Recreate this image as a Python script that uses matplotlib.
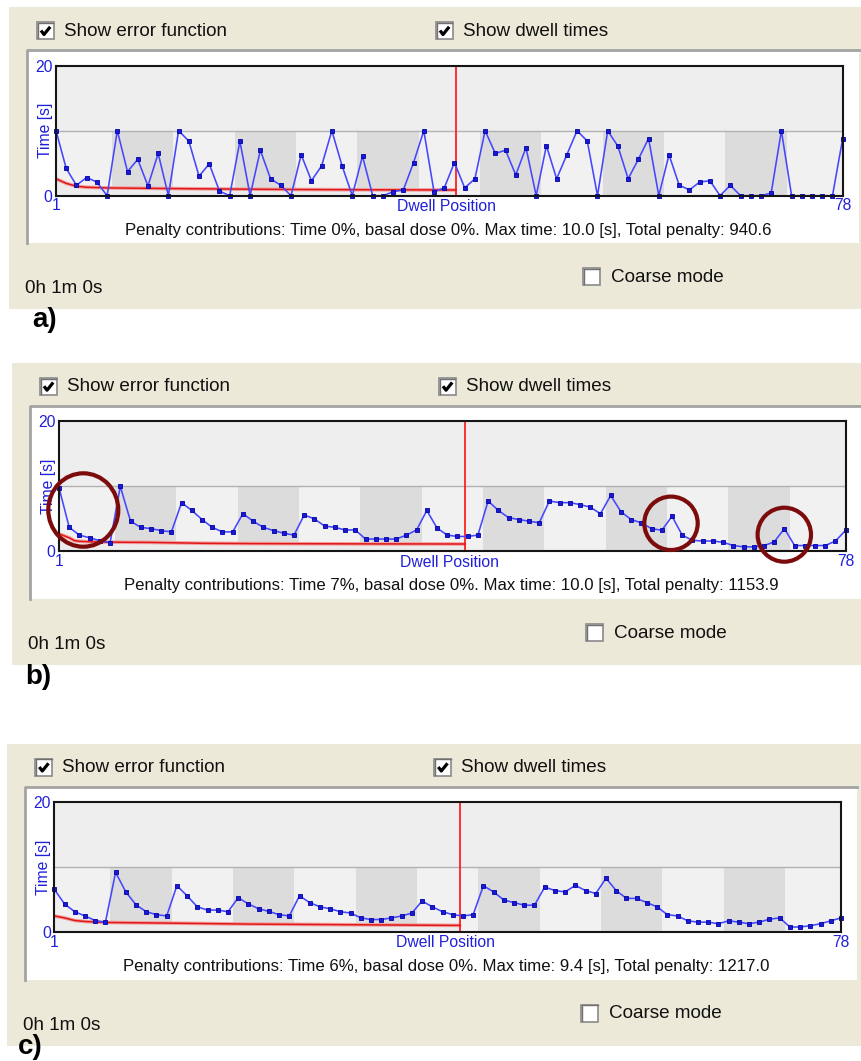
import numpy as np
import matplotlib
matplotlib.use("Agg")
import matplotlib.pyplot as plt
from matplotlib.patches import Rectangle, Ellipse

plt.rcParams['font.family'] = ['Liberation Sans', 'DejaVu Sans']

W, H = 861, 1061

# ---------------- data ----------------
positions = np.arange(1, 79)

dwell_a = [10, 4.2, 1.6, 2.8, 2.1, 0, 10, 3.7, 5.6, 1.5,
           6.5, 0, 10, 8.4, 3.0, 4.9, 0.7, 0, 8.4, 0,
           7.0, 2.6, 1.6, 0, 6.3, 2.3, 4.6, 10, 4.6, 0,
           6.1, 0, 0, 0.6, 0.9, 5.1, 10, 0.6, 1.2, 5.1,
           1.2, 2.6, 10, 6.5, 7.0, 3.2, 7.4, 0, 7.7, 2.6,
           6.3, 10, 8.4, 0, 10, 7.6, 2.6, 5.6, 8.8, 0,
           6.3, 1.6, 0.9, 2.1, 2.3, 0, 1.6, 0, 0, 0,
           0.4, 10, 0, 0, 0, 0, 0, 8.8]

dwell_b = [9.8, 3.7, 2.5, 2.1, 1.65, 1.35, 10.0, 4.65, 3.7, 3.5,
           3.2, 3.0, 7.5, 6.3, 4.9, 3.7, 3.0, 3.0, 5.8, 4.65,
           3.7, 3.2, 2.8, 2.5, 5.6, 5.0, 3.9, 3.7, 3.3, 3.3,
           1.9, 1.9, 1.9, 1.9, 2.5, 3.3, 6.3, 3.6, 2.5, 2.3,
           2.3, 2.5, 7.75, 6.3, 5.2, 4.9, 4.65, 4.4, 7.75, 7.5,
           7.5, 7.2, 6.8, 5.8, 8.6, 6.1, 4.9, 4.4, 3.5, 3.25,
           5.4, 2.5, 1.7, 1.6, 1.6, 1.4, 0.9, 0.7, 0.7, 0.9,
           1.45, 3.5, 0.9, 0.9, 0.9, 0.9, 1.6, 3.25]

dwell_c = [6.6, 4.35, 3.15, 2.5, 1.8, 1.5, 9.2, 6.2, 4.2, 3.15,
           2.7, 2.5, 7.15, 5.6, 3.9, 3.4, 3.4, 3.15, 5.3, 4.35,
           3.6, 3.2, 2.7, 2.5, 5.6, 4.55, 3.9, 3.6, 3.15, 2.95,
           2.2, 1.95, 1.95, 2.2, 2.5, 2.95, 4.8, 3.9, 3.15, 2.7,
           2.5, 2.7, 7.15, 6.2, 4.95, 4.55, 4.15, 4.15, 6.95, 6.4,
           6.2, 7.2, 6.4, 5.95, 8.3, 6.4, 5.2, 5.2, 4.55, 3.9,
           2.7, 2.5, 1.75, 1.55, 1.55, 1.3, 1.75, 1.55, 1.3, 1.55,
           2.0, 2.2, 0.8, 0.8, 1.0, 1.3, 1.75, 2.2]

# error function (red curve), read at selected positions
err_pos_a = [1, 2, 3, 4, 6, 9, 12, 16, 20, 25, 30, 35, 40, 40.15]
err_a = [2.6, 1.9, 1.45, 1.3, 1.2, 1.15, 1.1, 1.05, 1.0, 0.95, 0.92, 0.9, 0.88, 0.88]
err_pos_b = [1, 2, 2.5, 3, 4, 6, 10, 15, 20, 30, 40, 40.77]
err_b = [2.7, 2.1, 1.66, 1.55, 1.48, 1.42, 1.38, 1.25, 1.2, 1.16, 1.14, 1.14]
err_pos_c = [1, 2, 3, 4, 6, 12, 20, 30, 40, 40.75]
err_c = [2.5, 2.2, 1.8, 1.65, 1.5, 1.4, 1.25, 1.15, 1.05, 1.05]

marker_pos = [40.15, 40.77, 40.75]      # red vertical line (dwell position)
max_time_line = 10.0

penalty_texts = [
    "Penalty contributions: Time 0%, basal dose 0%. Max time: 10.0 [s], Total penalty: 940.6",
    "Penalty contributions: Time 7%, basal dose 0%. Max time: 10.0 [s], Total penalty: 1153.9",
    "Penalty contributions: Time 6%, basal dose 0%. Max time: 9.4 [s], Total penalty: 1217.0",
]
panel_labels = ["a)", "b)", "c)"]
x_ticks = [1, 78]
y_ticks = [0, 20]
elapsed = "0h 1m 0s"

# ---------------- styles ----------------
BEIGE = '#ece9d8'
BLUE_TXT = '#2020dc'
UI = 13.6
AX_FS = 11.3

fig = plt.figure(figsize=(W / 100, H / 100), dpi=100)
fig.patch.set_facecolor('white')

bg = fig.add_axes([0, 0, 1, 1])
bg.set_xlim(0, W)
bg.set_ylim(H, 0)
bg.axis('off')


def checkbox(ax, x, y, checked):
    ax.add_patch(Rectangle((x, y), 17, 17, facecolor='white',
                           edgecolor='#8a8a8a', lw=1.2, zorder=3))
    ax.plot([x + 0.8, x + 0.8, x + 16.2], [y + 16.2, y + 0.8, y + 0.8],
            color='#707070', lw=1.0, zorder=4)
    if checked:
        ax.plot([x + 4, x + 7, x + 13.2], [y + 8.5, y + 12.5, y + 4.8],
                color='black', lw=2.3, solid_capstyle='butt', zorder=5)


pen_size = [None]


def panel(idx, dx, dy, dwell, epos, evals, red_x, label_xy):
    # window background
    bg.add_patch(Rectangle((9 + dx, 7 + dy), W - (9 + dx), 302,
                           facecolor=BEIGE, edgecolor='none', zorder=1))
    checkbox(bg, 37 + dx, 22 + dy, True)
    bg.text(64 + dx, 31 + dy, "Show error function", fontsize=UI,
            va='center', ha='left', color='#111111', zorder=5)
    checkbox(bg, 436 + dx, 22 + dy, True)
    bg.text(463 + dx, 31 + dy, "Show dwell times", fontsize=UI,
            va='center', ha='left', color='#111111', zorder=5)
    # white chart box
    bg.add_patch(Rectangle((27 + dx, 50 + dy), 832, 193,
                           facecolor='white', edgecolor='none', zorder=2))
    bg.plot([27 + dx, 27 + dx, 859 + dx], [243 + dy, 50 + dy, 50 + dy],
            color='#a3a3a3', lw=2.0, zorder=3)
    # penalty line
    t = bg.text(448 + dx, 230 + dy, penalty_texts[idx], fontsize=11,
                ha='center', va='center', color='#111111', zorder=5)
    if pen_size[0] is None:
        r = fig.canvas.get_renderer()
        w = t.get_window_extent(r).width
        pen_size[0] = 11 * 643.0 / w
    t.set_fontsize(pen_size[0])
    # coarse mode
    checkbox(bg, 583 + dx, 268 + dy, False)
    bg.text(611 + dx, 277.5 + dy, "Coarse mode", fontsize=UI,
            va='center', ha='left', color='#111111', zorder=5)
    bg.text(25 + dx, 288.5 + dy, elapsed, fontsize=UI,
            va='center', ha='left', color='#111111', zorder=5)
    bg.text(label_xy[0], label_xy[1], panel_labels[idx], fontsize=20,
            fontweight='bold', va='top', ha='left', color='black', zorder=6)

    # chart axes
    x0, y0, w, h = 56 + dx, 65.7 + dy, 786.7, 130.0
    ax = fig.add_axes([x0 / W, 1 - (y0 + h) / H, w / W, h / H])
    ax.set_facecolor('#f1f1f1')
    ax.set_xlim(x_ticks[0], x_ticks[-1])
    ax.set_ylim(y_ticks[0], y_ticks[-1])
    ax.axhspan(max_time_line, y_ticks[-1], color='#eeeeee', lw=0, zorder=0)
    for left in np.arange(6.5, 78, 12):
        ax.axvspan(left, left + 6, ymin=0, ymax=max_time_line / y_ticks[-1],
                   color='#dcdcdc', lw=0, zorder=0.5)
    ax.axhline(max_time_line, color='#b2b2b2', lw=1.0, zorder=1)
    ax.fill_between(epos, 0, evals, color='#ececec', lw=0, zorder=1.2)
    ax.plot(epos, evals, color='#f2a0a0', lw=2.6, zorder=1.5, solid_capstyle='butt')
    ax.plot(epos, evals, color='#e01818', lw=1.1, zorder=1.6)
    ax.axvline(red_x, color='#ff1010', lw=1.2, zorder=1.7)
    ax.plot(positions, dwell, color='#4646ff', lw=1.15, marker='s', ms=3.5,
            mfc='#1a1ad0', mec='#0000a8', mew=0.6, zorder=3, clip_on=False)
    for s in ax.spines.values():
        s.set_color('#151515')
        s.set_linewidth(1.5)
        s.set_zorder(4)
    ax.set_xticks(x_ticks)
    ax.set_xticklabels([str(v) for v in x_ticks])
    ax.set_yticks(y_ticks)
    ax.set_yticklabels([str(v) for v in y_ticks])
    ax.tick_params(length=0, labelsize=AX_FS, labelcolor=BLUE_TXT)
    ax.tick_params(axis='x', pad=2)
    ax.tick_params(axis='y', pad=2.5)
    ax.set_xlabel("Dwell Position", fontsize=AX_FS, color=BLUE_TXT, va='center')
    ax.xaxis.set_label_coords(0.497, -0.082)
    ax.set_ylabel("Time [s]", fontsize=AX_FS, color=BLUE_TXT, va='center')
    ax.yaxis.set_label_coords(-0.0135, 0.5)
    return ax


panel(0, 0.0, 0.0, dwell_a, err_pos_a, err_a, marker_pos[0], (32, 307))
panel(1, 3.0, 355.7, dwell_b, err_pos_b, err_b, marker_pos[1], (25, 664))
panel(2, -1.7, 736.5, dwell_c, err_pos_c, err_c, marker_pos[2], (18, 1034))

# annotation circles on panel b
ov = fig.add_axes([0, 0, 1, 1], facecolor='none')
ov.set_xlim(0, W)
ov.set_ylim(H, 0)
ov.axis('off')
for (cx, cy, ew, eh) in [(83.3, 510.0, 70, 73.4),
                         (671.0, 523.3, 53.4, 53.4),
                         (784.3, 534.7, 53.4, 54.0)]:
    ov.add_patch(Ellipse((cx, cy), ew, eh, facecolor='none',
                         edgecolor='#7c0c0c', lw=3.0))

fig.savefig('out.png', dpi=100)
